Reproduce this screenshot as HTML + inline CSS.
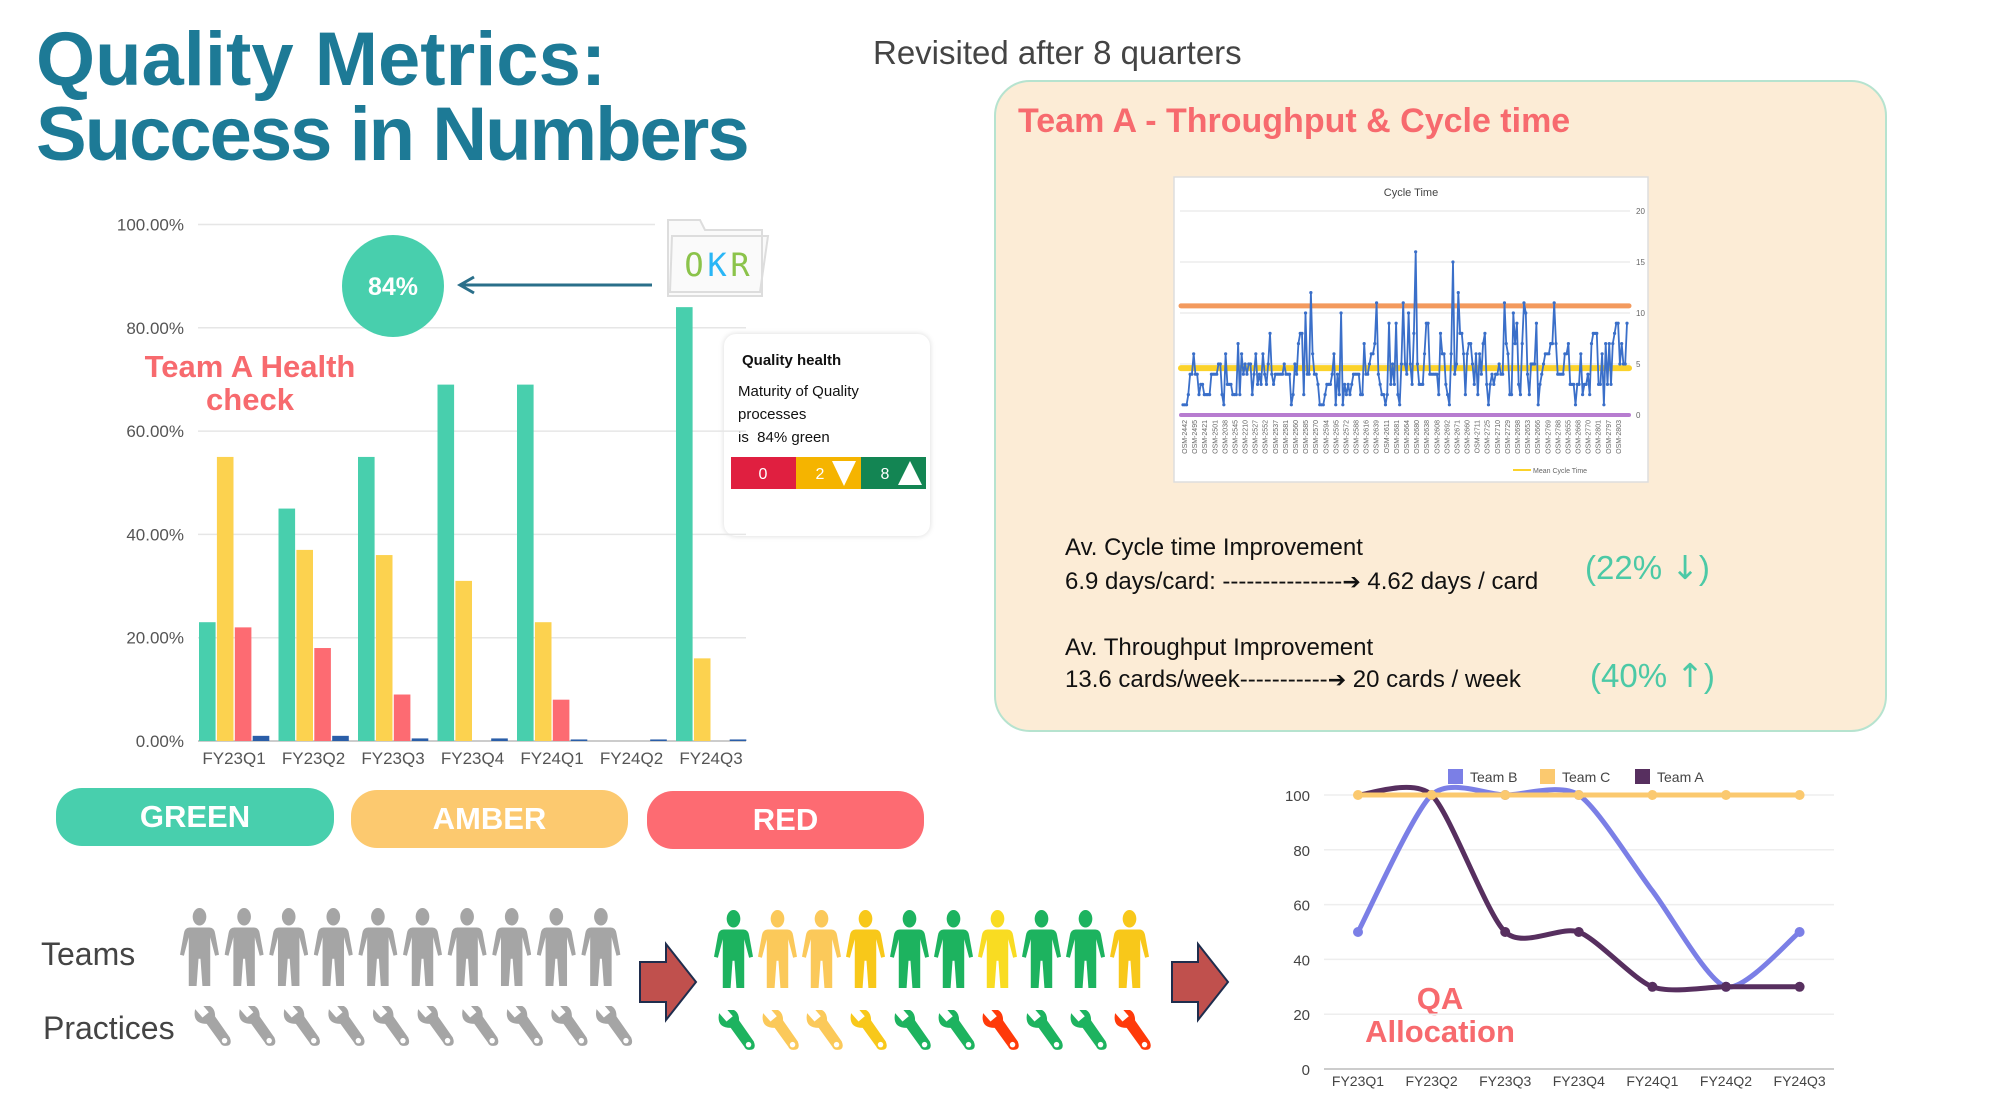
<!DOCTYPE html>
<html><head><meta charset="utf-8">
<style>
html,body{margin:0;padding:0;background:#fff;}
body{width:2000px;height:1120px;position:relative;overflow:hidden;font-family:"Liberation Sans",sans-serif;}
.abs{position:absolute;white-space:nowrap;}
.title{left:36px;color:#1d7a96;font-weight:bold;font-size:76px;letter-spacing:-1px;line-height:1;}
.pill{position:absolute;border-radius:26px;color:#fff;font-weight:bold;font-size:31px;text-align:center;line-height:58px;height:58px;}
.body{font-size:24px;color:#111;}
.arr{font-family:"DejaVu Sans",sans-serif;font-size:22px;}
</style></head>
<body>
<div class="abs title" style="top:22px;letter-spacing:0px;">Quality Metrics:</div>
<div class="abs title" style="top:97px;letter-spacing:-2px;">Success in Numbers</div>
<div class="abs" style="left:873px;top:34px;font-size:33px;color:#444;">Revisited after 8 quarters</div>

<div class="abs" style="left:994px;top:80px;width:889px;height:648px;background:#fcecd6;border:2px solid #b6e3cf;border-radius:36px;"></div>
<div class="abs" style="left:1018px;top:102px;font-size:34px;font-weight:bold;color:#f76a6e;">Team A - Throughput &amp; Cycle time</div>
<div class="abs body" style="left:1065px;top:534px;">Av. Cycle time Improvement</div>
<div class="abs body" style="left:1065px;top:568px;">6.9 days/card: ---------------<span class="arr">➔</span> 4.62 days / card</div>
<div class="abs" style="left:1585px;top:548px;font-size:33px;color:#4cc9a6;">(22% <span style="font-family:'DejaVu Sans',sans-serif;">↓</span>)</div>
<div class="abs body" style="left:1065px;top:634px;">Av. Throughput Improvement</div>
<div class="abs body" style="left:1065px;top:666px;">13.6 cards/week-----------<span class="arr">➔</span> 20 cards / week</div>
<div class="abs" style="left:1590px;top:656px;font-size:33px;color:#4cc9a6;">(40% <span style="font-family:'DejaVu Sans',sans-serif;">↑</span>)</div>

<div class="abs" style="left:120px;top:350px;width:260px;text-align:center;font-size:31px;font-weight:bold;color:#f76a6e;line-height:33px;white-space:normal;">Team A Health<br>check</div>

<div class="abs" style="left:724px;top:334px;width:206px;height:202px;background:#fff;border-radius:12px;box-shadow:0 0 6px rgba(0,0,0,0.15);"></div>
<div class="abs" style="left:742px;top:352px;font-size:15px;font-weight:bold;color:#111;">Quality health</div>
<div class="abs" style="left:738px;top:380px;font-size:15px;color:#111;line-height:23px;white-space:normal;width:180px;">Maturity of Quality processes<br>is &nbsp;84% green</div>

<div class="pill" style="left:56px;top:788px;width:278px;background:#48cfad;">GREEN</div>
<div class="pill" style="left:351px;top:790px;width:277px;background:#fcc96f;">AMBER</div>
<div class="pill" style="left:647px;top:791px;width:277px;background:#fd6b72;">RED</div>

<div class="abs" style="left:41px;top:936px;font-size:32px;color:#444;">Teams</div>
<div class="abs" style="left:43px;top:1010px;font-size:32px;color:#444;">Practices</div>

<div class="abs" style="left:1340px;top:982px;width:200px;text-align:center;font-size:31px;font-weight:bold;color:#f76a6e;line-height:33px;white-space:normal;">QA<br>Allocation</div>

<svg id="svg" width="2000" height="1120" style="position:absolute;left:0;top:0;" xmlns="http://www.w3.org/2000/svg">
<defs>
<symbol id="person" viewBox="0 0 40 80">
<ellipse cx="20" cy="9" rx="7" ry="9"/>
<path d="M10 20 H30 Q35 20 36 26 L40 48 L36 49 L31 30 L31 80 L23 80 L21 52 L19 52 L17 80 L9 80 L9 30 L4 49 L0 48 L4 26 Q5 20 10 20 Z"/>
</symbol>
<symbol id="wrench" viewBox="0 0 40 40">
<path d="M3 3 L10 11 L16 6 L10 -1 Q22 -2 22 10 L36 30 Q39 38 32 38 Q28 38 27 35 L14 17 Q0 17 3 3 Z"/>
<circle cx="31" cy="33" r="2.6" fill="#fff"/>
</symbol>
</defs>
<g id="bar-chart"></g>
<g id="cycle-chart"></g>
<g id="line-chart"></g>
<g id="icons"></g>
</svg>

<script>
// ---------- Bar chart data ----------
const barCategories = ["FY23Q1","FY23Q2","FY23Q3","FY23Q4","FY24Q1","FY24Q2","FY24Q3"];
const greenValues = [23,45,55,69,69,0,84];
const amberValues = [55,37,36,31,23,0,16];
const redValues = [22,18,9,0,8,0,0];
const blueValues = [1,1,0.5,0.5,0.3,0.3,0.3];
const barTicks = ["0.00%","20.00%","40.00%","60.00%","80.00%","100.00%"];
const barTickValues = [0,20,40,60,80,100];

// ---------- Cycle time data ----------
const cycleValues = [1,1,1,2,4,4,6,4,4,2,3,3,2,2,2,2,4,4,4,4,5,5,2,1,6,3,3,3,2,2,2,7,2,6,4,5,4,5,5,2,4,6,3,4,3,6,4,3,5,8,4,3,4,4,4,4,4,5,4,4,4,1,2,5,4,7,8,8,2,10,4,4,12,6,4,4,3,1,1,1,2,3,3,3,4,6,1,4,2,10,1,3,2,3,2,3,4,4,4,4,2,2,7,4,4,5,6,6,7,11,4,3,2,2,1,2,9,3,5,3,9,2,1,5,11,5,4,10,5,3,8,16,5,3,3,3,6,9,9,4,4,4,4,4,2,8,6,6,3,2,1,6,15,4,5,12,8,8,6,2,6,7,7,5,3,6,2,6,4,7,8,3,1,3,4,3,4,4,5,4,4,11,7,6,2,2,10,7,9,3,2,7,11,10,4,2,5,5,5,9,1,3,4,5,6,6,6,7,7,11,7,4,4,4,4,6,6,7,3,3,3,1,3,3,6,2,3,3,4,2,7,8,8,8,3,3,6,1,7,3,7,3,7,8,9,9,5,7,5,5,9];
const cycleMean = [4.6];
const cycleUpper = [10.7];
const cycleLower = [0];
const cycleTicks = [0,5,10,15,20];
const cycleLabels = ["OSM-2442","OSM-2495","OSM-2421","OSM-2501","OSM-2038","OSM-2545","OSM-2210","OSM-2527","OSM-2552","OSM-2537","OSM-2581","OSM-2560","OSM-2585","OSM-2570","OSM-2594","OSM-2595","OSM-2572","OSM-2588","OSM-2616","OSM-2639","OSM-2611","OSM-2681","OSM-2664","OSM-2680","OSM-2638","OSM-2608","OSM-2692","OSM-2671","OSM-2660","OSM-2711","OSM-2725","OSM-2710","OSM-2729","OSM-2698","OSM-2653","OSM-2666","OSM-2769","OSM-2788","OSM-2655","OSM-2668","OSM-2770","OSM-2801","OSM-2797","OSM-2803"];

// ---------- QA allocation data ----------
const lineCategories = ["FY23Q1","FY23Q2","FY23Q3","FY23Q4","FY24Q1","FY24Q2","FY24Q3"];
const teamB = [50,100,100,100,65,30,50];
const teamC = [100,100,100,100,100,100,100];
const teamA = [100,100,50,50,30,30,30];
const lineTicks = [0,20,40,60,80,100];

// ---------- Icons data ----------
const peopleColors = ["#1db35f","#fbc95a","#fbc95a","#f8c81a","#1db35f","#1db35f","#f9dc22","#1db35f","#1db35f","#f8c81a"];
const wrenchColors = ["#1db35f","#fbc95a","#fbc95a","#f8c81a","#1db35f","#1db35f","#ff3a0a","#1db35f","#1db35f","#ff3a0a"];

const NS="http://www.w3.org/2000/svg";
function mk(tag,attrs,parent){const e=document.createElementNS(NS,tag);for(const k in attrs)e.setAttribute(k,attrs[k]);parent.appendChild(e);return e;}

// ===== Bar chart =====
(function(){
const g=document.getElementById('bar-chart');
const x0=198, step=79.5, yTop=224.5, yBot=741;
const y=v=>yBot-(v/100)*(yBot-yTop);
barTickValues.forEach((v,i)=>{
  const ln=mk('line',{x1:x0,x2:v===100?655:746,y1:y(v),y2:y(v),stroke:v===0?'#ccc':'#e6e6e6','stroke-width':v===0?2:1.5},g);
  
  
  const t=mk('text',{x:184,y:y(v)+6,'text-anchor':'end','font-size':17,fill:'#555','font-family':'Liberation Sans, sans-serif'},g);
  t.textContent=barTicks[i];
  
  
});
const series=[[greenValues,'#48cfad'],[amberValues,'#fcd24f'],[redValues,'#fd6b72'],[blueValues,'#2a5ea8']];
barCategories.forEach((c,i)=>{
  const gx=x0+1+i*step;
  series.forEach((s,j)=>{
    const v=s[0][i];
    const r=mk('rect',{x:gx+j*17.9,y:y(v),width:16.6,height:yBot-y(v),fill:s[1]},g);
    
    
  });
  const t=mk('text',{x:gx+35,y:764,'text-anchor':'middle','font-size':17,fill:'#555','font-family':'Liberation Sans, sans-serif'},g);
  t.textContent=c;
  
  
});
const cc=mk('ellipse',{cx:393,cy:286,rx:51,ry:51,fill:'#48cfad'},g);


const ct=mk('text',{x:393,y:295,'text-anchor':'middle','font-size':25,'font-weight':'bold',fill:'#fff','font-family':'Liberation Sans, sans-serif'},g);
ct.textContent='84%';


const ar=mk('path',{d:'M652 285 H462 M474 277 L460 285 L474 293',stroke:'#2a6f8a','stroke-width':3,fill:'none'},g);


const fo=mk('path',{d:'M668 220 H700 L705 230 H762 V296 H668 Z M672 236 H768 L760 292 H670 Z',fill:'#fafafa',stroke:'#ddd','stroke-width':2},g);


[['O','#8bc34a',694],['K','#29b6f6',717],['R','#8bc34a',740]].forEach(l=>{
  const t=mk('text',{x:l[2],y:276,'text-anchor':'middle','font-size':32,fill:l[1],'font-family':'DejaVu Sans Mono, monospace'},g);
  t.textContent=l[0];
  
  
});
const segs=[['0','#e01f40'],['2','#f5b400'],['8','#138553']];
segs.forEach((s,i)=>{
  const r=mk('rect',{x:731+i*65,y:457,width:65,height:32,fill:s[1]},g);
  
  
  const t=mk('text',{x:731+i*65+(i===0?32:24),y:479,'text-anchor':'middle','font-size':16,fill:'#fff','font-family':'Liberation Sans, sans-serif'},g);
  t.textContent=s[0];
  
  
});
const tri1=mk('path',{d:'M832 461 L856 461 L844 486 Z',fill:'#fff'},g);


const tri2=mk('path',{d:'M898 485 L922 485 L910 461 Z',fill:'#fff'},g);


})();

// ===== Cycle chart =====
(function(){
const g=document.getElementById('cycle-chart');
const bg=mk('rect',{x:1174,y:177,width:474,height:305,fill:'#fff',stroke:'#ddd','stroke-width':1.5},g);


const L=1183,R=1627,yT=211,yB=415;
const y=v=>yB-(v/20)*(yB-yT);
const x=i=>L+i*(R-L)/(cycleValues.length-1);
const tt=mk('text',{x:1411,y:196,'text-anchor':'middle','font-size':11,fill:'#444','font-family':'Liberation Sans, sans-serif'},g);
tt.textContent='Cycle Time';


cycleTicks.forEach(v=>{
  const ln=mk('line',{x1:L-3,x2:R+3,y1:y(v),y2:y(v),stroke:'#e3e3e3','stroke-width':1},g);
  
  
  const t=mk('text',{x:1636,y:y(v)+3,'font-size':8,fill:'#666','font-family':'Liberation Sans, sans-serif'},g);
  t.textContent=v;
  
  
});
const refs=[[cycleUpper[0],'#f39a5e',5],[cycleMean[0],'#fbd22a',6],[cycleLower[0],'#b77cd0',4]];
refs.forEach(r=>{
  const ln=mk('line',{x1:L-2,x2:R+2,y1:y(r[0]),y2:y(r[0]),stroke:r[1],'stroke-width':r[2],'stroke-linecap':'round'},g);
  
  
});
const pts=cycleValues.map((v,i)=>x(i).toFixed(1)+','+y(v).toFixed(1)).join(' ');
const pl=mk('polyline',{points:pts,fill:'none',stroke:'#3a6fc9','stroke-width':1.8},g);


cycleValues.forEach((v,i)=>{
  const c=mk('circle',{cx:x(i),cy:y(v),r:1.6,fill:'#3a6fc9'},g);
  
  
});
cycleLabels.forEach((l,i)=>{
  const lx=L+4+i*(R-L)/cycleLabels.length;
  const t=mk('text',{x:lx,y:420,'font-size':7,fill:'#666','font-family':'Liberation Sans, sans-serif',transform:'rotate(-90 '+lx+' 420)','text-anchor':'end'},g);
  t.textContent=l;
  
  
});
const lg=mk('line',{x1:1513,x2:1531,y1:470,y2:470,stroke:'#fbd22a','stroke-width':2},g);


const lt=mk('text',{x:1533,y:473,'font-size':7,fill:'#666','font-family':'Liberation Sans, sans-serif'},g);
lt.textContent='Mean Cycle Time';


})();

// ===== Line chart =====
(function(){
const g=document.getElementById('line-chart');
const x0=1358, step=73.6, yT=795, yB=1069;
const y=v=>yB-(v/100)*(yB-yT);
const x=i=>x0+i*step;
lineTicks.forEach(v=>{
  const ln=mk('line',{x1:1324,x2:1834,y1:y(v),y2:y(v),stroke:v===0?'#bbb':'#eee','stroke-width':1.5},g);
  
  
  const t=mk('text',{x:1310,y:y(v)+6,'text-anchor':'end','font-size':15,fill:'#444','font-family':'Liberation Sans, sans-serif'},g);
  t.textContent=v;
  
  
});
lineCategories.forEach((c,i)=>{
  const t=mk('text',{x:x(i),y:1086,'text-anchor':'middle','font-size':14,fill:'#444','font-family':'Liberation Sans, sans-serif'},g);
  t.textContent=c;
  
  
});
function smooth(vals){
  const p=vals.map((v,i)=>[x(i),y(v)]);
  let d='M'+p[0][0]+' '+p[0][1];
  const k=8;
  for(let i=0;i<p.length-1;i++){
    const p0=p[i-1]||p[i],p1=p[i],p2=p[i+1],p3=p[i+2]||p2;
    const c1=[p1[0]+(p2[0]-p0[0])/k,p1[1]+(p2[1]-p0[1])/k];
    const c2=[p2[0]-(p3[0]-p1[0])/k,p2[1]-(p3[1]-p1[1])/k];
    d+=' C'+c1[0]+' '+c1[1]+' '+c2[0]+' '+c2[1]+' '+p2[0]+' '+p2[1];
  }
  return d;
}
const ser=[[teamB,'#7b7fe6','team-b',[0,1,2,3,5,6]],[teamC,'#fbc96f','team-c',[0,1,2,3,4,5,6]],[teamA,'#572f5f','team-a',[2,3,4,5,6]]];
[ser[0],ser[2],ser[1]].forEach(s=>{
  const p=mk('path',{d:smooth(s[0]),fill:'none',stroke:s[1],'stroke-width':5,'stroke-linecap':'round'},g);
  
  
  s[3].forEach(i=>{
    const c=mk('circle',{cx:x(i),cy:y(s[0][i]),r:5,fill:s[1]},g);
    
    
  });
});
const leg=[['Team B','#7b7fe6',1448],['Team C','#fbc96f',1540],['Team A','#572f5f',1635]];
leg.forEach(l=>{
  const r=mk('rect',{x:l[2],y:769,width:15,height:15,fill:l[1]},g);
  
  
  const t=mk('text',{x:l[2]+22,y:782,'font-size':14,fill:'#444','font-family':'Liberation Sans, sans-serif'},g);
  t.textContent=l[0];
  
  
});
})();

// ===== Icons =====
(function(){
const g=document.getElementById('icons');
for(let i=0;i<10;i++){
  const u=mk('use',{href:'#person',x:180+i*44.6,y:908,width:39,height:78,fill:'#a5a5a5'},g);
  
  
  const w=mk('use',{href:'#wrench',x:192+i*44.6,y:1006,width:42,height:42,fill:'#a5a5a5'},g);
  
  
}
peopleColors.forEach((c,i)=>{
  const u=mk('use',{href:'#person',x:714+i*44,y:910,width:39,height:78,fill:c},g);
  
  
});
wrenchColors.forEach((c,i)=>{
  const w=mk('use',{href:'#wrench',x:716+i*44,y:1010,width:42,height:42,fill:c},g);
  
  
});
[[640],[1172]].forEach(a=>{
  const X=a[0];
  const p=mk('path',{d:`M${X} 962 H${X+26} V944 L${X+56} 982 L${X+26} 1020 V1002 H${X} Z`,fill:'#c0504d',stroke:'#1f2d4d','stroke-width':2},g);
  
  
});
})();
</script>
</body></html>
